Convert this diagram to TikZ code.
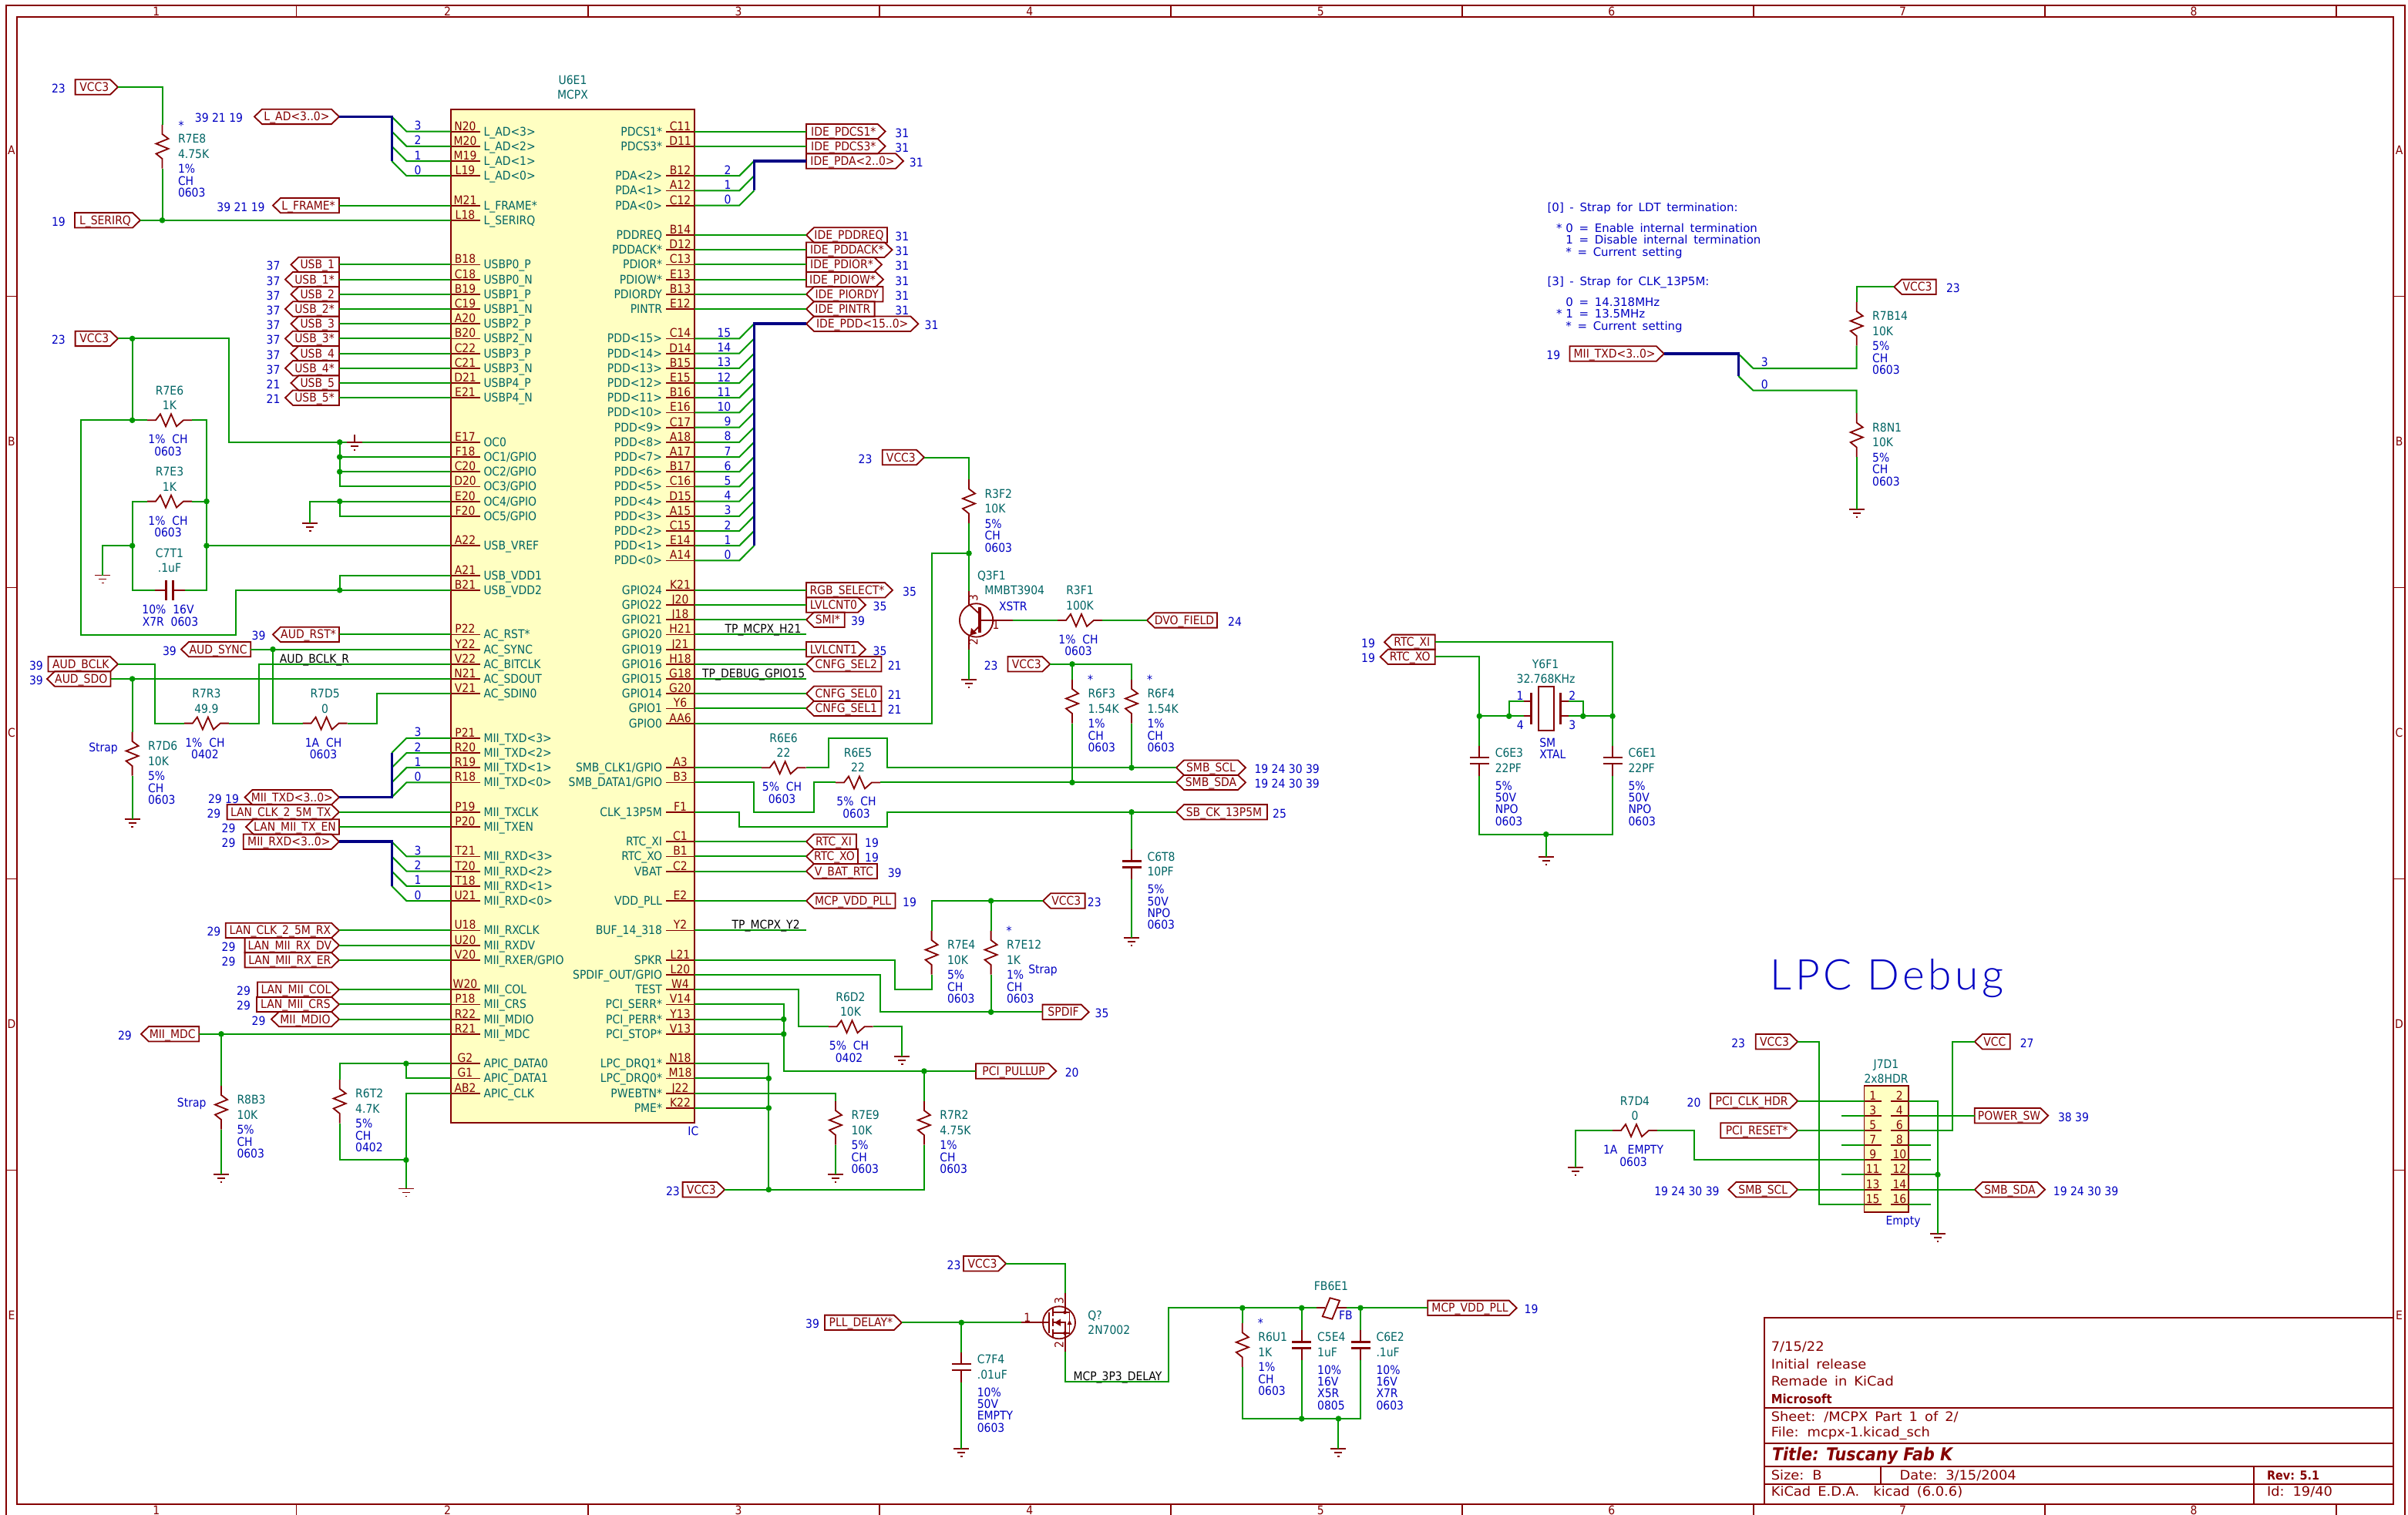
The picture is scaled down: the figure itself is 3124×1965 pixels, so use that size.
\documentclass[tikz,border=0pt]{standalone}
\usepackage{fontspec}
\newfontfamily\kf[FakeStretch=0.9]{DejaVu Sans}
\newfontfamily\nf[FakeStretch=1.0,WordSpace=1.6]{DejaVu Sans}
\newfontfamily\tf[FakeStretch=1.05,WordSpace=1.6]{DejaVu Sans}
\newfontfamily\bigf[LetterSpace=8.3]{Lato Light}
\newcommand\kfont{\kf\fontsize{15.5}{15.5}\selectfont}
\definecolor{wirec}{RGB}{0,150,0}
\definecolor{symc}{RGB}{132,0,0}
\definecolor{tealc}{RGB}{0,100,100}
\definecolor{bluec}{RGB}{0,0,194}
\definecolor{busc}{RGB}{0,0,132}
\definecolor{icfill}{RGB}{255,255,194}
\tikzset{
 wire/.style={draw=wirec,line width=2pt,line join=miter},
 busw/.style={draw=busc,line width=3.6pt,line join=miter},
 symb/.style={draw=symc,line width=1.8pt,line join=miter},
 txt/.style={inner sep=0pt,outer sep=0pt,text height=11pt,text depth=0pt,font=\kfont},
 Tc/.style={txt,text=tealc},
 Tw/.style={txt,text=tealc,anchor=west},
 Te/.style={txt,text=tealc,anchor=east},
 Bc/.style={txt,text=bluec},
 Bw/.style={txt,text=bluec,anchor=west},
 Nw/.style={txt,text=bluec,anchor=west,font=\nf\fontsize{15}{15}\selectfont},
 Mc/.style={txt,text=symc},
 Mw/.style={txt,text=symc,anchor=west,font=\tf\fontsize{17}{17}\selectfont},
 Kc/.style={txt,text=black},
}
\newcount\tc
\newcommand\ry[1]{170.6+19.2*#1}
\newcommand\tx[4]{\global\advance\tc by 1 \node[#1,name=t\the\tc] at ({#2},{#3}) {#4};}
% hierarchical label: id type xl xr y text refx ref
\newcommand\hl[8]{%
 \coordinate (#1-l) at (#3,#5); \coordinate (#1-r) at (#4,#5);
 \if#2O\draw[symb] (#3,#5-9.7) -- (#4-10,#5-9.7) -- (#4,#5) -- (#4-10,#5+9.7) -- (#3,#5+9.7) -- cycle;
  \tx{Mc}{(#3+#4)/2-3}{#5}{#6}\fi
 \if#2I\draw[symb] (#3,#5) -- (#3+10,#5-9.7) -- (#4,#5-9.7) -- (#4,#5+9.7) -- (#3+10,#5+9.7) -- cycle;
  \tx{Mc}{(#3+#4)/2+3}{#5}{#6}\fi
 \if#2B\draw[symb] (#3,#5) -- (#3+10,#5-9.7) -- (#4-10,#5-9.7) -- (#4,#5) -- (#4-10,#5+9.7) -- (#3+10,#5+9.7) -- cycle;
  \tx{Mc}{(#3+#4)/2}{#5}{#6}\fi
 \if\relax\detokenize{#8}\relax\else\tx{Bc}{#7}{#5+2}{#8}\fi
}
\newcommand\resv[8]{% id x yc ref val a b c
 \coordinate (#1-t) at (#2,#3-28.5); \coordinate (#1-b) at (#2,#3+28.5);
 \draw[symb] (#1-t) -- (#2,#3-16) -- (#2+8,#3-10) -- (#2-8,#3-3.5) -- (#2+8,#3+3) -- (#2-8,#3+9.5) -- (#2,#3+16) -- (#1-b);
 \tx{Tw}{#2+20.5}{#3-10}{#4}\tx{Tw}{#2+20.5}{#3+9.5}{#5}
 \tx{Bw}{#2+20.5}{#3+29}{#6}\tx{Bw}{#2+20.5}{#3+44.5}{#7}\tx{Bw}{#2+20.5}{#3+60}{#8}
}
\newcommand\resh[7]{% id xc y ref val a b
 \coordinate (#1-l) at (#2-29,#3); \coordinate (#1-r) at (#2+29,#3);
 \draw[symb] (#1-l) -- (#2-18,#3) -- (#2-12,#3-8) -- (#2-5,#3+8) -- (#2+2,#3-8) -- (#2+9,#3+8) -- (#2+18,#3) -- (#1-r);
 \tx{Tc}{#2}{#3-38.5}{#4}\tx{Tc}{#2}{#3-19}{#5}
 \tx{Bc}{#2-2}{#3+25}{#6}\tx{Bc}{#2-2}{#3+40.5}{#7}
}
\newcommand\capv[9]{% id x yc ref val a b c d
 \coordinate (#1-t) at (#2,#3-19.5); \coordinate (#1-b) at (#2,#3+19.5);
 \draw[symb] (#1-t) -- (#2,#3-4); \draw[symb] (#2,#3+4) -- (#1-b);
 \draw[symb,line width=2.8pt] (#2-12.5,#3-4) -- (#2+12.5,#3-4);
 \draw[symb,line width=2.8pt] (#2-12.5,#3+4) -- (#2+12.5,#3+4);
 \tx{Tw}{#2+20.5}{#3-10}{#4}\tx{Tw}{#2+20.5}{#3+9.5}{#5}
 \tx{Bw}{#2+20.5}{#3+32.5}{#6}\tx{Bw}{#2+20.5}{#3+48}{#7}\tx{Bw}{#2+20.5}{#3+63}{#8}\tx{Bw}{#2+20.5}{#3+78.5}{#9}
}
\newcommand\gnd[3]{% id x y
 \coordinate (#1) at (#2,#3);
 \draw[symb] (#2-10,#3) -- (#2+10,#3);
 \draw[symb] (#2-5,#3+5) -- (#2+5,#3+5);
 \draw[symb] (#2-1.2,#3+10) -- (#2+1.2,#3+10);
}
\newcommand\jn[3]{\coordinate (#1) at (#2,#3); \fill[wirec] (#2,#3) circle (3.8pt);}
\newcommand\pinL[3]{\coordinate (p#1) at (585,\ry{#2});
 \draw[symb] (585,\ry{#2}) -- (622.5,\ry{#2});
 \tx{Mc}{603.5}{\ry{#2}-7}{#1}\tx{Tw}{627.5}{\ry{#2}}{#3}}
\newcommand\pinR[3]{\coordinate (p#1) at (901,\ry{#2});
 \draw[symb] (901,\ry{#2}) -- (863.5,\ry{#2});
 \tx{Mc}{882.5}{\ry{#2}-7}{#1}\tx{Te}{859}{\ry{#2}}{#3}}
\newcommand\strmark[2]{\tx{Bc}{#1}{#2}{*}}
\begin{document}
\catcode`\_=12
\begin{tikzpicture}[x=1pt,y=-1pt]
\useasboundingbox (0,0) rectangle (3124,1965);
\fill[white] (0,0) rectangle (3124,1965);
\clip (0,0) rectangle (3124,1965);
% frame
\draw[symb] (7.6,6.7) rectangle (3120,1968);
\draw[symb] (22.3,22) rectangle (3104.7,1952);
\foreach \k in {0,...,7}{\draw[symb] (384.5+378.1*\k,6.7) -- (384.5+378.1*\k,22);
 \draw[symb] (384.5+378.1*\k,1952) -- (384.5+378.1*\k,1968);}
\foreach \k in {0,...,3}{\draw[symb] (7.6,384.5+378*\k) -- (22.3,384.5+378*\k);
 \draw[symb] (3104.7,384.5+378*\k) -- (3120,384.5+378*\k);}
\foreach \k/\t in {0/1,1/2,2/3,3/4,4/5,5/6,6/7,7/8}{
 \tx{Mc}{202.9+377.6*\k}{14.5}{\t}\tx{Mc}{202.9+377.6*\k}{1959.5}{\t}}
\foreach \k/\t in {0/A,1/B,2/C,3/D,4/E}{
 \tx{Mc}{15}{195+378*\k}{\t}\tx{Mc}{3112.5}{195+378*\k}{\t}}
% IC
\draw[symb,fill=icfill] (585,142) rectangle (901,1457);
\tx{Tc}{743}{103.7}{U6E1}\tx{Tc}{743}{122.9}{MCPX}\tx{Bc}{899.4}{1468}{IC}
\pinL{N20}{0}{L_AD<3>}\pinL{M20}{1}{L_AD<2>}\pinL{M19}{2}{L_AD<1>}\pinL{L19}{3}{L_AD<0>}
\pinL{M21}{5}{L_FRAME*}\pinL{L18}{6}{L_SERIRQ}
\pinL{B18}{9}{USBP0_P}\pinL{C18}{10}{USBP0_N}\pinL{B19}{11}{USBP1_P}\pinL{C19}{12}{USBP1_N}
\pinL{A20}{13}{USBP2_P}\pinL{B20}{14}{USBP2_N}\pinL{C22}{15}{USBP3_P}\pinL{C21}{16}{USBP3_N}
\pinL{D21}{17}{USBP4_P}\pinL{E21}{18}{USBP4_N}
\pinL{E17}{21}{OC0}\pinL{F18}{22}{OC1/GPIO}\pinL{C20}{23}{OC2/GPIO}\pinL{D20}{24}{OC3/GPIO}\pinL{E20}{25}{OC4/GPIO}\pinL{F20}{26}{OC5/GPIO}
\pinL{A22}{28}{USB_VREF}\pinL{A21}{30}{USB_VDD1}\pinL{B21}{31}{USB_VDD2}
\pinL{P22}{34}{AC_RST*}\pinL{Y22}{35}{AC_SYNC}\pinL{V22}{36}{AC_BITCLK}\pinL{N21}{37}{AC_SDOUT}\pinL{V21}{38}{AC_SDIN0}
\pinL{P21}{41}{MII_TXD<3>}\pinL{R20}{42}{MII_TXD<2>}\pinL{R19}{43}{MII_TXD<1>}\pinL{R18}{44}{MII_TXD<0>}
\pinL{P19}{46}{MII_TXCLK}\pinL{P20}{47}{MII_TXEN}
\pinL{T21}{49}{MII_RXD<3>}\pinL{T20}{50}{MII_RXD<2>}\pinL{T18}{51}{MII_RXD<1>}\pinL{U21}{52}{MII_RXD<0>}
\pinL{U18}{54}{MII_RXCLK}\pinL{U20}{55}{MII_RXDV}\pinL{V20}{56}{MII_RXER/GPIO}
\pinL{W20}{58}{MII_COL}\pinL{P18}{59}{MII_CRS}\pinL{R22}{60}{MII_MDIO}\pinL{R21}{61}{MII_MDC}
\pinL{G2}{63}{APIC_DATA0}\pinL{G1}{64}{APIC_DATA1}\pinL{AB2}{65}{APIC_CLK}
\pinR{C11}{0}{PDCS1*}\pinR{D11}{1}{PDCS3*}\pinR{B12}{3}{PDA<2>}\pinR{A12}{4}{PDA<1>}\pinR{C12}{5}{PDA<0>}
\pinR{B14}{7}{PDDREQ}\pinR{D12}{8}{PDDACK*}\pinR{C13}{9}{PDIOR*}\pinR{E13}{10}{PDIOW*}\pinR{B13}{11}{PDIORDY}\pinR{E12}{12}{PINTR}
\pinR{C14}{14}{PDD<15>}\pinR{D14}{15}{PDD<14>}\pinR{B15}{16}{PDD<13>}\pinR{E15}{17}{PDD<12>}\pinR{B16}{18}{PDD<11>}\pinR{E16}{19}{PDD<10>}
\pinR{C17}{20}{PDD<9>}\pinR{A18}{21}{PDD<8>}\pinR{A17}{22}{PDD<7>}\pinR{B17}{23}{PDD<6>}\pinR{C16}{24}{PDD<5>}\pinR{D15}{25}{PDD<4>}
\pinR{A15}{26}{PDD<3>}\pinR{C15}{27}{PDD<2>}\pinR{E14}{28}{PDD<1>}\pinR{A14}{29}{PDD<0>}
\pinR{K21}{31}{GPIO24}\pinR{J20}{32}{GPIO22}\pinR{J18}{33}{GPIO21}\pinR{H21}{34}{GPIO20}\pinR{J21}{35}{GPIO19}\pinR{H18}{36}{GPIO16}
\pinR{G18}{37}{GPIO15}\pinR{G20}{38}{GPIO14}\pinR{Y6}{39}{GPIO1}\pinR{AA6}{40}{GPIO0}
\pinR{A3}{43}{SMB_CLK1/GPIO}\pinR{B3}{44}{SMB_DATA1/GPIO}\pinR{F1}{46}{CLK_13P5M}
\pinR{C1}{48}{RTC_XI}\pinR{B1}{49}{RTC_XO}\pinR{C2}{50}{VBAT}\pinR{E2}{52}{VDD_PLL}\pinR{Y2}{54}{BUF_14_318}
\pinR{L21}{56}{SPKR}\pinR{L20}{57}{SPDIF_OUT/GPIO}\pinR{W4}{58}{TEST}\pinR{V14}{59}{PCI_SERR*}\pinR{Y13}{60}{PCI_PERR*}\pinR{V13}{61}{PCI_STOP*}
\pinR{N18}{63}{LPC_DRQ1*}\pinR{M18}{64}{LPC_DRQ0*}\pinR{J22}{65}{PWEBTN*}\pinR{K22}{66}{PME*}
% left labels
\hl{vccA}{O}{97.6}{153}{113}{VCC3}{76}{23}
\hl{serirq}{O}{97}{182}{\ry{6}}{L_SERIRQ}{76}{19}
\hl{lad}{B}{330}{440}{\ry{-1}}{L_AD<3..0>}{284}{39~21~19}
\hl{lframe}{I}{354}{440}{\ry{5}}{L_FRAME*}{312.5}{39~21~19}
\hl{usbA}{I}{377.5}{440}{\ry{9}}{USB_1}{354.6}{37}
\hl{usbB}{I}{370}{440}{\ry{10}}{USB_1*}{354.6}{37}
\hl{usbC}{I}{377.5}{440}{\ry{11}}{USB_2}{354.6}{37}
\hl{usbD}{I}{370}{440}{\ry{12}}{USB_2*}{354.6}{37}
\hl{usbE}{I}{377.5}{440}{\ry{13}}{USB_3}{354.6}{37}
\hl{usbF}{I}{370}{440}{\ry{14}}{USB_3*}{354.6}{37}
\hl{usbG}{I}{377.5}{440}{\ry{15}}{USB_4}{354.6}{37}
\hl{usbH}{I}{370}{440}{\ry{16}}{USB_4*}{354.6}{37}
\hl{usbJ}{I}{377.5}{440}{\ry{17}}{USB_5}{354.6}{21}
\hl{usbK}{I}{370}{440}{\ry{18}}{USB_5*}{354.6}{21}
\hl{vccB}{O}{97.6}{153}{\ry{14}}{VCC3}{76}{23}
\hl{audrst}{I}{354}{440}{\ry{34}}{AUD_RST*}{335.5}{39}
\hl{audsync}{I}{235}{325.3}{\ry{35}}{AUD_SYNC}{220}{39}
\hl{audbclk}{O}{62.5}{153}{\ry{36}}{AUD_BCLK}{47}{39}
\hl{audsdo}{I}{61}{143.5}{\ry{37}}{AUD_SDO}{47}{39}
\hl{txd}{B}{317.6}{440}{\ry{45}}{MII_TXD<3..0>}{290}{29~19}
\hl{clktx}{O}{294.6}{440}{\ry{46}}{LAN_CLK_2_5M_TX}{277.4}{29}
\hl{txen}{I}{319}{440}{\ry{47}}{LAN_MII_TX_EN}{296.6}{29}
\hl{rxd}{O}{315.7}{440}{\ry{48}}{MII_RXD<3..0>}{296.6}{29}
\hl{clkrx}{O}{292.7}{440}{\ry{54}}{LAN_CLK_2_5M_RX}{277.4}{29}
\hl{rxdv}{O}{317.6}{440}{\ry{55}}{LAN_MII_RX_DV}{296.6}{29}
\hl{rxer}{O}{317.6}{440}{\ry{56}}{LAN_MII_RX_ER}{296.6}{29}
\hl{col}{O}{334}{440}{\ry{58}}{LAN_MII_COL}{316}{29}
\hl{crs}{O}{333}{440}{\ry{59}}{LAN_MII_CRS}{316}{29}
\hl{mdio}{B}{352}{440}{\ry{60}}{MII_MDIO}{335.5}{29}
\hl{mdc}{I}{183}{258.3}{\ry{61}}{MII_MDC}{162}{29}
% left wires
\resv{r7e8}{210.5}{190}{R7E8}{4.75K}{1\%}{CH}{0603}
\strmark{235}{163}
\jn{jser}{210.5}{\ry{6}}
\draw[wire] (vccA-r) -| (r7e8-t);
\draw[wire] (r7e8-b) -- (jser);
\draw[wire] (serirq-r) -- (pL18);
\draw[wire] (lframe-r) -- (pM21);
\draw[wire] (usbA-r) -- (pB18);\draw[wire] (usbB-r) -- (pC18);\draw[wire] (usbC-r) -- (pB19);\draw[wire] (usbD-r) -- (pC19);
\draw[wire] (usbE-r) -- (pA20);\draw[wire] (usbF-r) -- (pB20);\draw[wire] (usbG-r) -- (pC22);\draw[wire] (usbH-r) -- (pC21);
\draw[wire] (usbJ-r) -- (pD21);\draw[wire] (usbK-r) -- (pE21);
% L_AD bus
\foreach \p/\r/\t in {N20/0/3,M20/1/2,M19/2/1,L19/3/0}{
 \draw[wire] (508.3,\ry{\r}-19.2) -- (527.4,\ry{\r}) -- (p\p);
 \tx{Bc}{542}{\ry{\r}-7.5}{\t}}
\draw[busw] (lad-r) -- (508.3,\ry{-1}) -- (508.3,\ry{2});
% USB/OC
\resh{r7e6}{220}{545.3}{R7E6}{1K}{1\%~~CH}{0603}
\resh{r7e3}{220}{650.6}{R7E3}{1K}{1\%~~CH}{0603}
\coordinate (c7t1-l) at (201,766); \coordinate (c7t1-r) at (240,766);
\draw[symb] (c7t1-l) -- (215.6,766); \draw[symb] (224.5,766) -- (c7t1-r);
\draw[symb,line width=2.8pt] (215.6,753.4) -- (215.6,778.6);
\draw[symb,line width=2.8pt] (224.5,753.4) -- (224.5,778.6);
\tx{Tc}{220}{718}{C7T1}\tx{Tc}{220}{737}{.1uF}\tx{Bc}{218}{791}{10\%~~16V}\tx{Bc}{221}{806.5}{X7R~~0603}
\draw[wire] (vccB-r) -- (296.5,\ry{14}) |- (pE17);
\jn{jA}{171.6}{\ry{14}}\jn{jB}{171.6}{545.3}\jn{jD}{268}{650.6}\jn{jE}{268}{\ry{28}}\jn{jF}{171.6}{\ry{28}}\jn{jC}{440.7}{\ry{31}}
\draw[wire] (jA) -- (jB);
\draw[wire] (jB) -- (r7e6-l);
\draw[wire] (jB) -- (104.6,545.3) -- (104.6,823.7) -- (306,823.7) -- (306,\ry{31}) -- (jC) -- (pB21);
\draw[wire] (jC) -- (440.7,\ry{30}) -- (pA21);
\draw[wire] (r7e6-r) -- (268,545.3) -- (jD) -- (jE) -- (268,766) -- (c7t1-r);
\draw[wire] (r7e3-r) -- (jD);
\draw[wire] (r7e3-l) -- (171.6,650.6) -- (jF) -- (171.6,766) -- (c7t1-l);
\gnd{gndA}{133.3}{746.5}
\draw[wire] (jF) -- (133.3,\ry{28}) -- (gndA);
\draw[wire] (jE) -- (pA22);
\jn{jG}{440.7}{\ry{21}}\jn{jH}{440.7}{\ry{22}}\jn{jI}{440.7}{\ry{23}}\jn{jJ}{440.7}{\ry{25}}
\draw[wire] (jG) -- (jH) -- (jI) -- (440.7,\ry{24}) -- (pD20);
\draw[wire] (jH) -- (pF18);\draw[wire] (jI) -- (pC20);
\gnd{gndS}{460}{\ry{21}}
\draw[symb] (460,564) -- (gndS);
\gnd{gndB}{402.4}{679}
\draw[wire] (gndB) |- (pE20);
\draw[wire] (jJ) -- (440.7,\ry{26}) -- (pF20);
% AUD
\draw[wire] (audrst-r) -- (pP22);
\jn{jS}{354}{\ry{35}}
\draw[wire] (audsync-r) -- (pY22);
\resh{r7d5}{421.6}{\ry{40}}{R7D5}{0}{1A~~CH}{0603}
\resh{r7r3}{267.9}{\ry{40}}{R7R3}{49.9}{1\%~~CH}{0402}
\draw[wire] (jS) |- (r7d5-l);
\draw[wire] (r7d5-r) -- (488.5,\ry{40}) |- (pV21);
\draw[wire] (audbclk-r) -- (200.9,\ry{36}) |- (r7r3-l);
\draw[wire] (r7r3-r) -- (335.5,\ry{40}) |- (pV22);
\tx{Kc}{408}{854.7}{AUD_BCLK_R}
\jn{jT}{171.6}{\ry{37}}
\draw[wire] (audsdo-r) -- (pN21);
\resv{r7d6}{171.6}{978}{R7D6}{10K}{5\%}{CH}{0603}
\tx{Bc}{134}{970}{Strap}
\gnd{gndC}{171.6}{1062.9}
\draw[wire] (jT) -- (r7d6-t);\draw[wire] (r7d6-b) -- (gndC);
% MII
\foreach \p/\r/\t in {P21/41/3,R20/42/2,R19/43/1,R18/44/0}{
 \draw[wire] (508.3,\ry{\r}+19.2) -- (527.4,\ry{\r}) -- (p\p);
 \tx{Bc}{542}{\ry{\r}-7.5}{\t}}
\draw[busw] (txd-r) -- (508.3,\ry{45}) -- (508.3,\ry{42});
\draw[wire] (clktx-r) -- (pP19);\draw[wire] (txen-r) -- (pP20);
\foreach \p/\r/\t in {T21/49/3,T20/50/2,T18/51/1,U21/52/0}{
 \draw[wire] (508.3,\ry{\r}-19.2) -- (527.4,\ry{\r}) -- (p\p);
 \tx{Bc}{542}{\ry{\r}-7.5}{\t}}
\draw[busw] (rxd-r) -- (508.3,\ry{48}) -- (508.3,\ry{51});
\draw[wire] (clkrx-r) -- (pU18);\draw[wire] (rxdv-r) -- (pU20);\draw[wire] (rxer-r) -- (pV20);
\draw[wire] (col-r) -- (pW20);\draw[wire] (crs-r) -- (pP18);\draw[wire] (mdio-r) -- (pR22);
\draw[wire] (mdc-r) -- (pR21);
\jn{jM}{287}{\ry{61}}
\resv{r8b3}{287}{1437}{R8B3}{10K}{5\%}{CH}{0603}
\tx{Bc}{248.7}{1431}{Strap}
\gnd{gndD}{287}{1524}
\draw[wire] (jM) -- (r8b3-t);\draw[wire] (r8b3-b) -- (gndD);
\resv{r6t2}{440.7}{1429}{R6T2}{4.7K}{5\%}{CH}{0402}
\jn{jP}{526.8}{\ry{63}}\jn{jQ}{526.8}{1505.3}
\gnd{gndE}{526.8}{1542.4}
\draw[wire] (pG2) -- (jP) -- (440.7,\ry{63}) -- (r6t2-t);
\draw[wire] (r6t2-b) -- (440.7,1505.3) -- (jQ);
\draw[wire] (jP) -- (526.8,\ry{64}) -- (pG1);
\draw[wire] (pAB2) -- (526.8,\ry{65}) -- (jQ) -- (gndE);
% right labels
\hl{pdcsA}{O}{1046}{1148.6}{\ry{0}}{IDE_PDCS1*}{1170.3}{31}
\hl{pdcsB}{O}{1046}{1148.6}{\ry{1}}{IDE_PDCS3*}{1170.3}{31}
\hl{pda}{O}{1046}{1172}{\ry{2}}{IDE_PDA<2..0>}{1188.8}{31}
\hl{pddreq}{I}{1046}{1151}{\ry{7}}{IDE_PDDREQ}{1170.3}{31}
\hl{pddack}{O}{1046}{1157.5}{\ry{8}}{IDE_PDDACK*}{1170.3}{31}
\hl{pdior}{O}{1046}{1144}{\ry{9}}{IDE_PDIOR*}{1170.3}{31}
\hl{pdiow}{O}{1046}{1146}{\ry{10}}{IDE_PDIOW*}{1170.3}{31}
\hl{piordy}{I}{1046}{1145.4}{\ry{11}}{IDE_PIORDY}{1170.3}{31}
\hl{pintr}{I}{1046}{1134.6}{\ry{12}}{IDE_PINTR}{1170.3}{31}
\hl{pdd}{B}{1046}{1191.4}{\ry{13}}{IDE_PDD<15..0>}{1208.6}{31}
\draw[wire] (pC11) -- (pdcsA-l);\draw[wire] (pD11) -- (pdcsB-l);
\foreach \p/\r/\t in {B12/3/2,A12/4/1,C12/5/0}{
 \draw[wire] (978.3,\ry{\r}-19.2) -- (959.2,\ry{\r}) -- (p\p);
 \tx{Bc}{944}{\ry{\r}-7.5}{\t}}
\draw[busw] (pda-l) -- (978.3,\ry{2}) -- (978.3,\ry{4});
\draw[wire] (pB14) -- (pddreq-l);\draw[wire] (pD12) -- (pddack-l);\draw[wire] (pC13) -- (pdior-l);
\draw[wire] (pE13) -- (pdiow-l);\draw[wire] (pB13) -- (piordy-l);\draw[wire] (pE12) -- (pintr-l);
\foreach \p/\r/\t/\c in {C14/14/15/939.4,D14/15/14/939.4,B15/16/13/939.4,E15/17/12/939.4,B16/18/11/939.4,E16/19/10/939.4,C17/20/9/944,A18/21/8/944,A17/22/7/944,B17/23/6/944,C16/24/5/944,D15/25/4/944,A15/26/3/944,C15/27/2/944,E14/28/1/944,A14/29/0/944}{
 \draw[wire] (978.3,\ry{\r}-19.2) -- (959.2,\ry{\r}) -- (p\p);
 \tx{Bc}{\c}{\ry{\r}-7.5}{\t}}
\draw[busw] (pdd-l) -- (978.3,\ry{13}) -- (978.3,\ry{28});
% GPIO
\hl{rgb}{O}{1046}{1158}{\ry{31}}{RGB_SELECT*}{1180}{35}
\hl{lvlA}{O}{1046}{1123}{\ry{32}}{LVLCNT0}{1141.6}{35}
\hl{smi}{I}{1046}{1095.7}{\ry{33}}{SMI*}{1113}{39}
\hl{lvlB}{O}{1046}{1123}{\ry{35}}{LVLCNT1}{1141.6}{35}
\hl{cnfC}{I}{1046}{1143.5}{\ry{36}}{CNFG_SEL2}{1160.7}{21}
\hl{cnfA}{I}{1046}{1143.5}{\ry{38}}{CNFG_SEL0}{1160.7}{21}
\hl{cnfB}{I}{1046}{1143.5}{\ry{39}}{CNFG_SEL1}{1160.7}{21}
\coordinate (tpA) at (1046,\ry{34}); \coordinate (tpB) at (1046,\ry{37}); \coordinate (tpC) at (1046,\ry{54});
\draw[wire] (pK21) -- (rgb-l);\draw[wire] (pJ20) -- (lvlA-l);\draw[wire] (pJ18) -- (smi-l);
\draw[wire] (pH21) -- (tpA);\draw[wire] (pJ21) -- (lvlB-l);\draw[wire] (pH18) -- (cnfC-l);
\draw[wire] (pG18) -- (tpB);\draw[wire] (pG20) -- (cnfA-l);\draw[wire] (pY6) -- (cnfB-l);
\draw[wire] (pY2) -- (tpC);
\tx{Kc}{990}{816.3}{TP_MCPX_H21}\tx{Kc}{977.7}{874.3}{TP_DEBUG_GPIO15}\tx{Kc}{993.6}{1200}{TP_MCPX_Y2}
% Q3F1
\hl{vccC}{O}{1144.8}{1199}{593.5}{VCC3}{1122.5}{23}
\resv{r3f2}{1257}{650.5}{R3F2}{10K}{5\%}{CH}{0603}
\jn{jR}{1257}{718}
\draw[wire] (vccC-r) -| (r3f2-t);
\coordinate (q3c) at (1257,767); \coordinate (q3e) at (1257,843); \coordinate (q3b) at (1314.4,804.9);
\draw[wire] (r3f2-b) -- (jR) -- (q3c);
\draw[wire] (pAA6) -| (1208.6,718) -- (jR);
\draw[symb] (1266.6,804.9) circle (21.7pt);
\draw[symb] (q3c) -- (1257,784) -- (1271,797);
\draw[symb] (1271,812) -- (1257,826) -- (q3e);
\draw[symb] (1271,804.9) -- (q3b);
\draw[symb,line width=3.4pt] (1271,788) -- (1271,821);
\fill[symc] (1258.5,824.5) -- (1260,815) -- (1267.5,822) -- cycle;
\tx{Mc,rotate=90}{1262.8}{776}{3}\tx{Mc,rotate=90}{1262.8}{832.6}{2}\tx{Mc}{1292}{811}{1}
\tx{Tw}{1268}{746.5}{Q3F1}\tx{Tw}{1277.4}{765.7}{MMBT3904}\tx{Bw}{1296}{787.3}{XSTR}
\gnd{gndF}{1257}{881.6}
\draw[wire] (q3e) -- (gndF);
\resh{r3f1}{1401}{804.9}{R3F1}{100K}{1\%~~CH}{0603}
\hl{dvo}{I}{1488}{1579}{804.9}{DVO_FIELD}{1602}{24}
\draw[wire] (q3b) -- (r3f1-l);\draw[wire] (r3f1-r) -- (dvo-l);
% SMB
\hl{vccD}{O}{1307.4}{1362.3}{\ry{36}}{VCC3}{1285.7}{23}
\resv{r6f3}{1391}{910}{R6F3}{1.54K}{1\%}{CH}{0603}\strmark{1414.6}{882}
\resv{r6f4}{1468}{910}{R6F4}{1.54K}{1\%}{CH}{0603}\strmark{1491.7}{882}
\jn{jU}{1391}{\ry{36}}\jn{jV}{1391}{\ry{44}}\jn{jW}{1468}{\ry{43}}\jn{jX}{1468}{\ry{46}}
\draw[wire] (vccD-r) -- (jU) -- (1468,\ry{36}) -- (r6f4-t);
\draw[wire] (jU) -- (r6f3-t);\draw[wire] (r6f3-b) -- (jV);\draw[wire] (r6f4-b) -- (jW);
\hl{scl}{B}{1526}{1616}{\ry{43}}{SMB_SCL}{1669.7}{19~24~30~39}
\hl{sda}{B}{1526}{1616}{\ry{44}}{SMB_SDA}{1669.7}{19~24~30~39}
\hl{sbck}{I}{1526}{1644}{\ry{46}}{SB_CK_13P5M}{1660}{25}
\resh{r6e6}{1016.6}{\ry{43}}{R6E6}{22}{5\%~~CH}{0603}
\resh{r6e5}{1113}{\ry{44}}{R6E5}{22}{5\%~~CH}{0603}
\draw[wire] (pA3) -- (r6e6-l);
\draw[wire] (r6e6-r) -- (1074.6,\ry{43}) -- (1074.6,\ry{41}) -- (1151,\ry{41}) -- (1151,\ry{43}) -- (scl-l);
\draw[wire] (pB3) -- (978.3,\ry{44}) -- (978.3,\ry{46}) -- (1055.5,\ry{46}) -- (1055.5,\ry{44}) -- (r6e5-l);
\draw[wire] (r6e5-r) -- (sda-l);
\draw[wire] (pF1) -- (959.2,\ry{46}) -- (959.2,\ry{47}) -- (1151,\ry{47}) -- (1151,\ry{46}) -- (sbck-l);
\capv{c6t8}{1468}{1121.5}{C6T8}{10PF}{5\%}{50V}{NPO}{0603}
\gnd{gndG}{1468}{1216.7}
\draw[wire] (jX) -- (c6t8-t);\draw[wire] (c6t8-b) -- (gndG);
% RTC etc
\hl{rtcA}{I}{1046}{1111}{\ry{48}}{RTC_XI}{1131}{19}
\hl{rtcB}{I}{1046}{1113}{\ry{49}}{RTC_XO}{1131}{19}
\hl{vbat}{I}{1046}{1138}{\ry{50}}{V_BAT_RTC}{1160.7}{39}
\hl{vddA}{I}{1046}{1161.4}{\ry{52}}{MCP_VDD_PLL}{1180}{19}
\draw[wire] (pC1) -- (rtcA-l);\draw[wire] (pB1) -- (rtcB-l);\draw[wire] (pC2) -- (vbat-l);\draw[wire] (pE2) -- (vddA-l);
% SPKR / SPDIF
\hl{vccE}{I}{1353}{1407.6}{\ry{52}}{VCC3}{1419.8}{23}
\hl{spdif}{O}{1352.4}{1412.7}{1313.3}{SPDIF}{1429.5}{35}
\resv{r7e4}{1208.6}{1236}{R7E4}{10K}{5\%}{CH}{0603}
\resv{r7e12}{1285.6}{1236}{R7E12}{1K}{1\%}{CH}{0603}\strmark{1309}{1208}
\tx{Bc}{1353}{1258.3}{Strap}
\jn{jY}{1285.6}{\ry{52}}\jn{jZ}{1285.6}{1313.3}
\draw[wire] (vccE-l) -- (jY) -- (1208.6,\ry{52}) -- (r7e4-t);
\draw[wire] (jY) -- (r7e12-t);\draw[wire] (r7e12-b) -- (jZ);
\draw[wire] (r7e4-b) -- (1208.6,\ry{58}) -- (1160.6,\ry{58}) |- (pL21);
\draw[wire] (pL20) -| (1141.7,1313.3) -- (jZ) -- (spdif-l);
\resh{r6d2}{1103.5}{1332.3}{R6D2}{10K}{5\%~~CH}{0402}
\gnd{gndH}{1170.3}{1370.7}
\draw[wire] (pW4) -| (1036,1332.3) -- (r6d2-l);
\draw[wire] (r6d2-r) -| (gndH);
\hl{pull}{O}{1266}{1370.3}{1390}{PCI_PULLUP}{1390.7}{20}
\jn{ja}{1016.7}{\ry{60}}\jn{jb}{1016.7}{\ry{61}}\jn{jc}{1198.9}{1390}
\draw[wire] (pV14) -- (1016.7,\ry{59}) -- (ja) -- (jb) -- (1016.7,1390) -- (jc) -- (pull-l);
\draw[wire] (pY13) -- (ja);\draw[wire] (pV13) -- (jb);
\resv{r7r2}{1198.9}{1457}{R7R2}{4.75K}{1\%}{CH}{0603}
\resv{r7e9}{1084}{1457}{R7E9}{10K}{5\%}{CH}{0603}
\gnd{gndJ}{1084}{1524.3}
\draw[wire] (pJ22) -| (r7e9-t);\draw[wire] (r7e9-b) -- (gndJ);
\draw[wire] (jc) -- (r7r2-t);
\hl{vccF}{O}{885.6}{940.2}{1543.7}{VCC3}{872.9}{23}
\jn{jd}{997.3}{\ry{64}}\jn{je}{997.3}{\ry{66}}\jn{jf}{997.3}{1543.7}
\draw[wire] (pN18) -- (997.3,\ry{63}) -- (jd) -- (je) -- (jf);
\draw[wire] (pM18) -- (jd);\draw[wire] (pK22) -- (je);
\draw[wire] (vccF-r) -- (jf) -| (r7r2-b);
% notes
\foreach \x/\y/\t in {2007.6/269.3/{[0] - Strap for LDT termination:},2019/295.7/*,2031.4/295.7/{0 = Enable internal termination},2031.4/311.3/{1 = Disable internal termination},2031.4/327/{* = Current setting},2007.6/365.3/{[3] - Strap for CLK_13P5M:},2031.4/392/{0 = 14.318MHz},2019/407.3/*,2031.4/407.3/{1 = 13.5MHz},2031.4/423/{* = Current setting}}{
 \tx{Nw}{\x}{\y}{\t}}
% MII strap
\hl{txdB}{O}{2036.4}{2158.8}{459}{MII_TXD<3..0>}{2015.3}{19}
\hl{vccG}{I}{2457.3}{2511.7}{372.3}{VCC3}{2533.9}{23}
\resv{r7b14}{2408.7}{420}{R7B14}{10K}{5\%}{CH}{0603}
\resv{r8n1}{2408.7}{564.5}{R8N1}{10K}{5\%}{CH}{0603}
\gnd{gndK}{2408.7}{660.7}
\draw[wire] (vccG-l) -| (r7b14-t);
\draw[wire] (2255.3,459) -- (2274.4,478) -| (r7b14-b);
\draw[wire] (2255.3,488) -- (2274.4,506.7) -| (r8n1-t);
\draw[wire] (r8n1-b) -- (gndK);
\draw[busw] (txdB-r) -- (2255.3,459) -- (2255.3,488);
\tx{Bc}{2289.3}{470}{3}\tx{Bc}{2289.3}{499}{0}
% crystal
\hl{xiB}{I}{1796}{1861.7}{833.3}{RTC_XI}{1775}{19}
\hl{xoB}{I}{1790.7}{1861.7}{852.3}{RTC_XO}{1775}{19}
\capv{c6e3}{1919.3}{987}{C6E3}{22PF}{5\%}{50V}{NPO}{0603}
\capv{c6e1}{2092}{987}{C6E1}{22PF}{5\%}{50V}{NPO}{0603}
\jn{jg}{1919.3}{929.3}\jn{jh}{1957.7}{929.3}\jn{ji}{2053.7}{929.3}\jn{jj}{2092}{929.3}\jn{jk}{2005.7}{1082.7}
\coordinate (xa) at (1976.7,910);\coordinate (xb) at (1976.7,929.3);\coordinate (xc) at (2035,910);\coordinate (xd) at (2035,929.3);
\draw[wire] (xiB-r) -| (jj) -- (c6e1-t);
\draw[wire] (xoB-r) -| (jg) -- (c6e3-t);
\draw[wire] (jg) -- (jh) -- (xb);\draw[wire] (jh) |- (xa);
\draw[wire] (jj) -- (ji) -- (xd);\draw[wire] (ji) |- (xc);
\draw[wire] (c6e3-b) |- (jk);\draw[wire] (c6e1-b) |- (jk);
\gnd{gndL}{2005.7}{1111.7}
\draw[wire] (jk) -- (gndL);
\draw[symb] (1995.7,890.7) rectangle (2015.7,948.3);
\draw[symb,line width=3.2pt] (1986.3,899.3) -- (1986.3,940);
\draw[symb,line width=3.2pt] (2024.7,899.3) -- (2024.7,940);
\draw[symb] (xa) -- (1986.3,910);\draw[symb] (xb) -- (1986.3,929.3);
\draw[symb] (xc) -- (2024.7,910);\draw[symb] (xd) -- (2024.7,929.3);
\tx{Bc}{1972}{902.7}{1}\tx{Bc}{1972.3}{940.7}{4}\tx{Bc}{2039.7}{902.7}{2}\tx{Bc}{2039.7}{940.7}{3}
\tx{Tc}{2005}{862}{Y6F1}\tx{Tc}{2005.5}{881}{32.768KHz}
\tx{Bw}{1997.3}{963.7}{SM}\tx{Bw}{1997.3}{979.3}{XTAL}
% LPC debug
\node[name=lpc,inner sep=0pt,text=bluec,font=\bigf\fontsize{55}{55}\selectfont] at (2448,1270) {LPC Debug};
\hl{vccJ}{O}{2277.7}{2332.2}{1351.7}{VCC3}{2255.2}{23}
\hl{vcc}{I}{2561.8}{2607.8}{1351.7}{VCC}{2629.7}{27}
\hl{clkh}{O}{2219}{2332.2}{1428.7}{PCI_CLK_HDR}{2197.5}{20}
\hl{pwr}{O}{2561.8}{2657.2}{1447.7}{POWER_SW}{2690}{38~39}
\hl{rst}{O}{2232.2}{2332.2}{1467}{PCI_RESET*}{}{}
\hl{sclB}{B}{2242.4}{2332.2}{1543.7}{SMB_SCL}{2188.4}{19~24~30~39}
\hl{sdaB}{B}{2561.8}{2653}{1543.7}{SMB_SDA}{2706}{19~24~30~39}
\draw[symb,fill=icfill] (2418.5,1409) rectangle (2476,1572.7);
\tx{Tc}{2447}{1380.7}{J7D1}\tx{Tc}{2447}{1400}{2x8HDR}\tx{Bc}{2469}{1584.3}{Empty}
\foreach \k/\a/\b/\y in {0/1/2/1428.7,1/3/4/1447.7,2/5/6/1467,3/7/8/1486,4/9/10/1505.3,5/11/12/1524.3,6/13/14/1543.7,7/15/16/1562.7}{
 \coordinate (j\a) at (2418.5,\y); \coordinate (j\b) at (2476,\y);
 \draw[symb] (j\a) -- (2441.4,\y); \draw[symb] (j\b) -- (2453,\y);
 \tx{Mc}{2429.7}{\y-7}{\a}\tx{Mc}{2464.4}{\y-7}{\b}}
\jn{jl}{2513.9}{1524.3}
\gnd{gndM}{2513.9}{1601}
\draw[wire] (clkh-r) -- (j1);
\draw[wire] (j2) -- (2513.9,1428.7) -- (jl) -- (gndM);
\draw[wire] (j12) -- (jl);
\draw[wire] (vccJ-r) -- (2360.3,1351.7) |- (j15);
\draw[wire] (vcc-l) -- (2533.3,1351.7) |- (j6);
\draw[wire] (rst-r) -- (j5);
\draw[wire] (j4) -- (pwr-l);
\draw[wire] (sclB-r) -- (j13);\draw[wire] (j14) -- (sdaB-l);
\coordinate (sa) at (2389.4,1447.7);\coordinate (sb) at (2389.4,1486);\coordinate (sc) at (2389.4,1524.3);
\coordinate (sd) at (2504.7,1486);\coordinate (se) at (2504.7,1505.3);\coordinate (sf) at (2504.7,1562.7);
\draw[wire] (sa) -- (j3);\draw[wire] (sb) -- (j7);\draw[wire] (sc) -- (j11);
\draw[wire] (j8) -- (sd);\draw[wire] (j10) -- (se);\draw[wire] (j16) -- (sf);
\resh{r7d4}{2121}{1467}{R7D4}{0}{1A~~~EMPTY}{0603}
\gnd{gndN}{2044}{1515}
\draw[wire] (r7d4-l) -| (gndN);
\draw[wire] (r7d4-r) -- (2197.6,1467) |- (j9);
% MOSFET
\hl{dly}{O}{1070}{1169.8}{1716.3}{PLL_DELAY*}{1054}{39}
\hl{vccH}{O}{1250}{1305.2}{1639.7}{VCC3}{1237.5}{23}
\jn{jm}{1247.3}{1716.3}
\coordinate (qg) at (1324.8,1716.3);\coordinate (qd) at (1381.6,1678);\coordinate (qs) at (1381.6,1754);
\draw[wire] (dly-r) -- (jm) -- (qg);
\draw[wire] (vccH-r) -| (qd);
\draw[symb] (1374,1716.3) circle (21pt);
\draw[symb] (qg) -- (1361,1716.3);
\draw[symb] (1361,1703) -- (1361,1730);
\draw[symb,line width=2.6pt] (1366,1698) -- (1366,1708);
\draw[symb,line width=2.6pt] (1366,1711) -- (1366,1721);
\draw[symb,line width=2.6pt] (1366,1725) -- (1366,1735);
\draw[symb] (qd) -- (1381.6,1703) -- (1366,1703);
\draw[symb] (qs) -- (1381.6,1716.3) -- (1366,1716.3);
\draw[symb] (1381.6,1730) -- (1366,1730);
\draw[symb,line width=1.2pt] (1381.6,1703) -- (1387.5,1703) -- (1387.5,1730) -- (1381.6,1730);
\fill[symc] (1368,1716.3) -- (1376,1711.5) -- (1376,1721) -- cycle;
\fill[symc] (1387.5,1713) -- (1384.5,1719) -- (1390.5,1719) -- cycle;
\fill[symc] (1381.6,1703) circle (2.3pt);\fill[symc] (1381.6,1730) circle (2.3pt);
\tx{Mc,rotate=90}{1374}{1687.7}{3}\tx{Mc,rotate=90}{1374}{1745}{2}\tx{Mc}{1332.8}{1710}{1}
\tx{Tw}{1411.4}{1706.7}{Q?}\tx{Tw}{1411.4}{1726}{2N7002}
\capv{c7f4}{1247.3}{1774}{C7F4}{.01uF}{10\%}{50V}{EMPTY}{0603}
\gnd{gndP}{1247.3}{1880}
\draw[wire] (jm) -- (c7f4-t);\draw[wire] (c7f4-b) -- (gndP);
\tx{Kc}{1450}{1785.7}{MCP_3P3_DELAY}
\jn{jn}{1611.8}{1697.3}\jn{jo}{1688.7}{1697.3}\jn{jp}{1765}{1697.3}
\coordinate (fba) at (1708,1697.3);\coordinate (fbb) at (1746.7,1697.3);
\draw[wire] (qs) -- (1381.6,1793) -- (1516,1793) -- (1516,1697.3) -- (jn) -- (jo) -- (fba);
\draw[symb] (fba) -- (1719,1697.3);\draw[symb] (1734,1697.3) -- (fbb);
\draw[symb] (1725.4,1684.3) -- (1738,1687.7) -- (1728.3,1711.7) -- (1715.7,1708.3) -- cycle;
\tx{Tc}{1727}{1668.7}{FB6E1}\tx{Bc}{1746}{1707}{FB}
\hl{vddB}{O}{1852.3}{1967.7}{1697.3}{MCP_VDD_PLL}{1986.6}{19}
\draw[wire] (fbb) -- (jp) -- (vddB-l);
\resv{r6u1}{1611.8}{1745.3}{R6U1}{1K}{1\%}{CH}{0603}\strmark{1635.3}{1717}
\capv{c5e4}{1688.7}{1745.3}{C5E4}{1uF}{10\%}{16V}{X5R}{0805}
\capv{c6e2}{1765}{1745.3}{C6E2}{.1uF}{10\%}{16V}{X7R}{0603}
\jn{jq}{1688.7}{1841}\jn{jr}{1736.4}{1841}
\gnd{gndQ}{1736.4}{1880}
\draw[wire] (jn) -- (r6u1-t);\draw[wire] (jo) -- (c5e4-t);\draw[wire] (jp) -- (c6e2-t);
\draw[wire] (r6u1-b) |- (jq);\draw[wire] (c5e4-b) -- (jq);\draw[wire] (c6e2-b) |- (jr);\draw[wire] (jq) -- (jr) -- (gndQ);
% title block
\draw[symb] (2288.6,1710) rectangle (3104.7,1952);
\draw[symb] (2288.6,1827.3) -- (3104.7,1827.3);
\draw[symb] (2288.6,1872.7) -- (3104.7,1872.7);
\draw[symb] (2288.6,1902.7) -- (3104.7,1902.7);
\draw[symb] (2288.6,1925.7) -- (3104.7,1925.7);
\draw[symb] (2439.8,1902.7) -- (2439.8,1925.7);
\draw[symb] (2923.7,1902.7) -- (2923.7,1952);
\tx{Mw}{2297.8}{1748}{7/15/22}
\tx{Mw}{2297.8}{1771}{Initial release}
\tx{Mw}{2297.8}{1793}{Remade in KiCad}
\tx{Mw,font=\kf\bfseries\fontsize{16.5}{16.5}\selectfont}{2297.8}{1816}{Microsoft}
\tx{Mw}{2297.8}{1839}{Sheet: /MCPX Part 1 of 2/}
\tx{Mw}{2297.8}{1859}{File: mcpx-1.kicad_sch}
\tx{Mw,font=\kf\bfseries\itshape\fontsize{23}{23}\selectfont,text height=16pt}{2299}{1887}{Title: Tuscany Fab K}
\tx{Mw}{2297.8}{1915}{Size: B}
\tx{Mw}{2464.6}{1915}{Date: 3/15/2004}
\tx{Mw,font=\kf\bfseries\fontsize{16}{16}\selectfont}{2941}{1915}{Rev: 5.1}
\tx{Mw}{2297.8}{1936}{KiCad E.D.A.~~kicad (6.0.6)}
\tx{Mw}{2941}{1936}{Id: 19/40}
\end{tikzpicture}
\end{document}
